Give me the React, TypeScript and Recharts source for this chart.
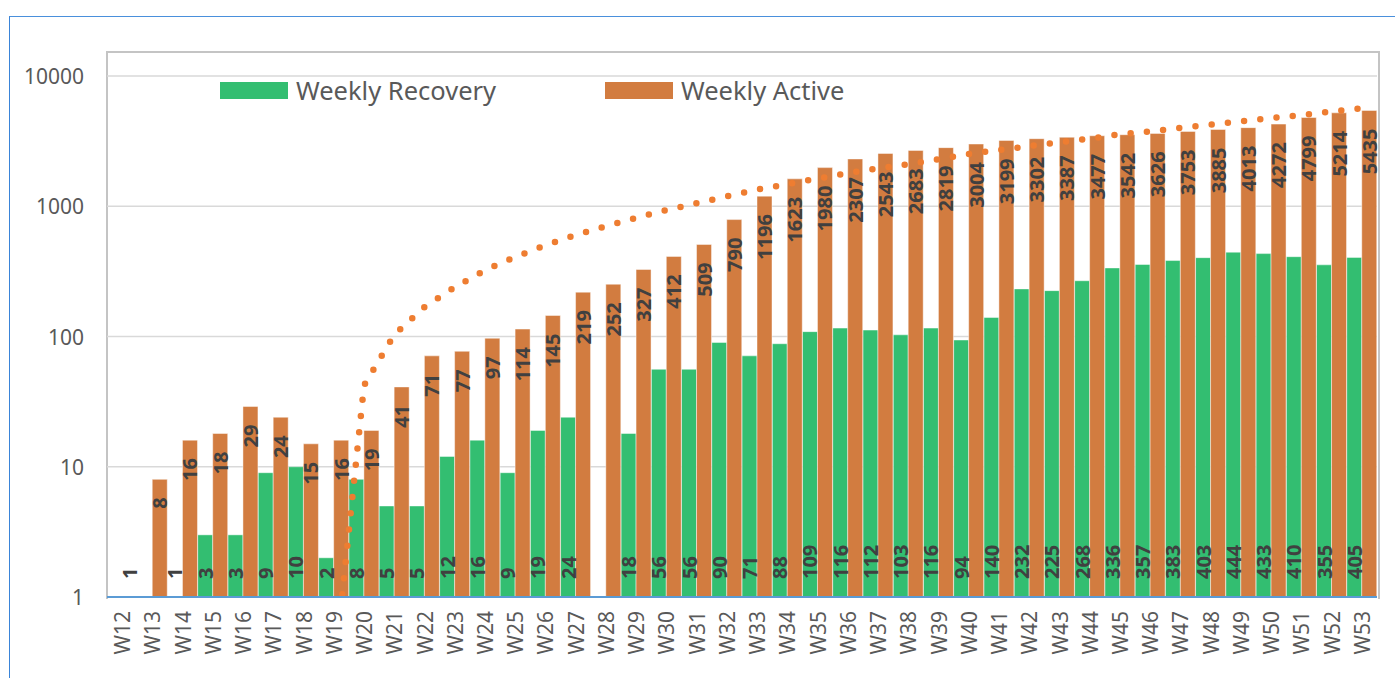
import React from "react";
import {
  ComposedChart,
  Bar,
  Line,
  XAxis,
  YAxis,
  CartesianGrid,
  Legend,
  LabelList,
} from "recharts";

const weeks: string[] = [
  "W12", "W13", "W14", "W15", "W16", "W17", "W18", "W19", "W20", "W21",
  "W22", "W23", "W24", "W25", "W26", "W27", "W28", "W29", "W30", "W31",
  "W32", "W33", "W34", "W35", "W36", "W37", "W38", "W39", "W40", "W41",
  "W42", "W43", "W44", "W45", "W46", "W47", "W48", "W49", "W50", "W51",
  "W52", "W53",
];

const weeklyRecovery: (number | null)[] = [
  null, null, 1, 3, 3, 9, 10, 2, 8, 5,
  5, 12, 16, 9, 19, 24, null, 18, 56, 56,
  90, 71, 88, 109, 116, 112, 103, 116, 94, 140,
  232, 225, 268, 336, 357, 383, 403, 444, 433, 410,
  355, 405,
];

const weeklyActive: number[] = [
  1, 8, 16, 18, 29, 24, 15, 16, 19, 41,
  71, 77, 97, 114, 145, 219, 252, 327, 412, 509,
  790, 1196, 1623, 1980, 2307, 2543, 2683, 2819, 3004, 3199,
  3302, 3387, 3477, 3542, 3626, 3753, 3885, 4013, 4272, 4799,
  5214, 5435,
];

// dotted trendline (W19 sits below the axis and gets clipped)
const activeTrend: (number | null)[] = [
  null, null, null, null, null, null, null, 0.25, 42, 103,
  168, 239, 323, 407, 503, 600, 703, 815, 933, 1056,
  1191, 1341, 1479, 1629, 1795, 1950, 2104, 2291, 2518, 2704,
  2893, 3104, 3304, 3575, 3752, 4000, 4227, 4483, 4761, 5002,
  5340, 5660,
];

const yTicks: number[] = [1, 10, 100, 1000, 10000];
const legendOrder: string[] = ["recovery", "active"];

const data = weeks.map((week, i) => ({
  week,
  recovery: weeklyRecovery[i],
  active: weeklyActive[i],
  trend: activeTrend[i],
}));

const FONT = '"Noto Sans", sans-serif';
const GREEN = "#33BE71";
const ORANGE = "#D27C40";

// a value of 1 sits on the log axis base, give it a hairline so the label still shows
const tinyBar = (value: any) => (value === 1 ? 1 : 0);

const renderBarLabel = (placeTop: boolean) => (props: any) => {
  const vb = props.viewBox ?? props;
  const { x, y, width, height } = vb;
  const v = props.value;
  if (v == null || x == null || isNaN(y)) return null;
  const cx = x + width / 2;
  const bottom = y + height;
  const atTop = placeTop && v > 1;
  const ay = atTop ? y + 18 : bottom - 18;
  return (
    <text
      x={cx}
      y={ay}
      transform={`rotate(-90 ${cx} ${ay})`}
      textAnchor={atTop ? "end" : "start"}
      dominantBaseline="central"
      fontFamily={FONT}
      fontWeight="bold"
      fontSize={20}
      fill="#404040"
    >
      {v}
    </text>
  );
};

const XTick = (p: any) => {
  const ty = 611;
  return (
    <text
      x={p.x}
      y={ty}
      transform={`rotate(-90 ${p.x} ${ty})`}
      textAnchor="end"
      dominantBaseline="central"
      fontFamily={FONT}
      fontSize={21}
      fill="#595959"
    >
      {p.payload.value}
    </text>
  );
};

const YTick = (p: any) => (
  <text
    x={84}
    y={p.y}
    textAnchor="end"
    dominantBaseline="central"
    fontFamily={FONT}
    fontSize={21}
    fill="#595959"
  >
    {p.payload.value}
  </text>
);

const renderLegend = (props: any) => {
  const items = legendOrder
    .map((k) => (props.payload ?? []).find((e: any) => e.dataKey === k))
    .filter(Boolean);
  return (
    <div style={{ position: "relative", height: 30 }}>
      {items.map((entry: any, i: number) => (
        <div
          key={entry.dataKey}
          style={{
            position: "absolute",
            left: i * 385,
            top: 0,
            height: 30,
            display: "flex",
            alignItems: "center",
            whiteSpace: "nowrap",
          }}
        >
          <span
            style={{
              display: "inline-block",
              width: 68,
              height: 17,
              background: entry.color,
            }}
          />
          <span
            style={{
              marginLeft: 8,
              fontFamily: FONT,
              fontSize: 25.5,
              lineHeight: "30px",
              color: "#595959",
            }}
          >
            {entry.value}
          </span>
        </div>
      ))}
    </div>
  );
};

export default function App() {
  return (
    <div
      style={{
        position: "absolute",
        left: 0,
        top: 0,
        width: 1395,
        height: 678,
        background: "#fff",
        overflow: "hidden",
        fontFamily: FONT,
      }}
    >
      {/* outer chart frame */}
      <div
        style={{
          position: "absolute",
          left: 9,
          top: 16,
          width: 1400,
          height: 700,
          borderTop: "1.5px solid #4A90DC",
          borderLeft: "1.5px solid #3A84D8",
        }}
      />
      {/* plot area border */}
      <div
        style={{
          position: "absolute",
          left: 106,
          top: 51,
          width: 1270,
          height: 546,
          borderTop: "2px solid #C4C4C4",
          borderLeft: "2px solid #C4C4C4",
          borderRight: "2px solid #C4C4C4",
        }}
      />
      <div style={{ position: "absolute", left: 0, top: 0 }}>
        <ComposedChart
          width={1395}
          height={678}
          data={data}
          margin={{ top: 76, right: 18, bottom: 0, left: 27 }}
          barCategoryGap={0}
          barGap={0}
        >
          <CartesianGrid vertical={false} stroke="#D9D9D9" strokeWidth={1.5} />
          <XAxis
            dataKey="week"
            interval={0}
            height={81}
            tickLine={false}
            axisLine={{ stroke: "#5B9BD5", strokeWidth: 2 }}
            tick={<XTick />}
          />
          <YAxis
            scale="log"
            domain={[1, 10000]}
            ticks={yTicks}
            allowDataOverflow
            width={80}
            axisLine={false}
            tickLine={false}
            tick={<YTick />}
          />
          <Legend
            verticalAlign="middle"
            layout="horizontal"
            wrapperStyle={{ top: 75, left: 220, width: 700, height: 30 }}
            content={renderLegend}
          />
          <Bar
            dataKey="recovery"
            name="Weekly Recovery"
            fill={GREEN}
            stroke="#ffffff"
            strokeOpacity={0.45}
            strokeWidth={1}
            minPointSize={tinyBar}
            isAnimationActive={false}
          >
            <LabelList dataKey="recovery" content={renderBarLabel(false)} />
          </Bar>
          <Bar
            dataKey="active"
            name="Weekly Active"
            fill={ORANGE}
            stroke="#ffffff"
            strokeOpacity={0.45}
            strokeWidth={1}
            minPointSize={tinyBar}
            isAnimationActive={false}
          >
            <LabelList dataKey="active" content={renderBarLabel(true)} />
          </Bar>
          <Line
            dataKey="trend"
            name="Trend"
            legendType="none"
            stroke="#EE7D31"
            strokeWidth={6.5}
            strokeDasharray="0 16.3"
            strokeLinecap="round"
            dot={false}
            activeDot={false}
            connectNulls={false}
            isAnimationActive={false}
          />
        </ComposedChart>
      </div>
    </div>
  );
}
